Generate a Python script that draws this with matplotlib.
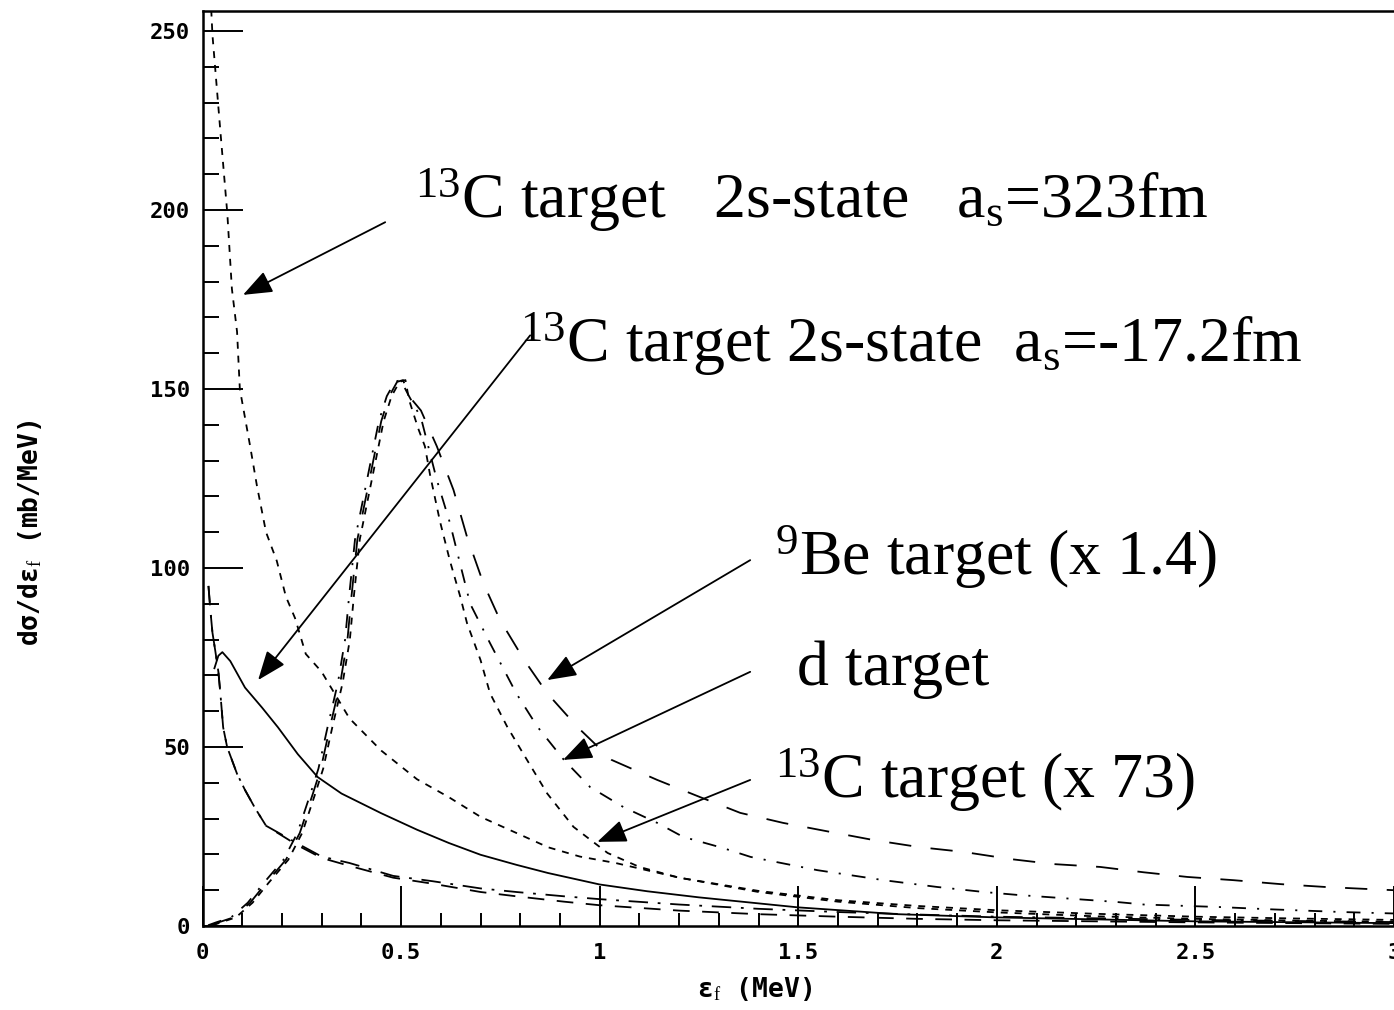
import numpy as np
import matplotlib.pyplot as plt
from matplotlib.ticker import MultipleLocator

plt.rcParams['mathtext.fontset'] = 'custom'
plt.rcParams['mathtext.rm'] = 'Liberation Serif'
plt.rcParams['mathtext.it'] = 'Liberation Serif:italic'
plt.rcParams['lines.scale_dashes'] = False

# 13C target, 2s-state, a_s = 323 fm
x_323 = [0.022, 0.025, 0.045, 0.0625, 0.074, 0.087, 0.094, 0.12, 0.137, 0.16, 0.187, 0.21,
         0.233, 0.26, 0.30, 0.37, 0.45, 0.54, 0.62, 0.70, 0.79, 0.87, 0.95, 1.04, 1.2, 1.4,
         1.6, 1.8, 2.0, 2.25, 2.5, 2.75, 3.0]
y_323 = [256, 249, 222, 199, 178, 166, 150, 134, 123, 110, 102, 92,
         86, 76, 71, 58, 49, 41, 36, 30.5, 26, 22, 19.4, 17.6, 13.5, 9.8,
         7.2, 5.6, 4.4, 3.4, 2.6, 2.1, 1.7]

# 13C target, 2s-state, a_s = -17.2 fm
x_172 = [0.03, 0.04, 0.05, 0.07, 0.107, 0.15, 0.19, 0.24, 0.29, 0.35, 0.45, 0.54, 0.62, 0.70,
         0.79, 0.87, 1.0, 1.12, 1.25, 1.5, 1.75, 2.0, 2.5, 3.0]
y_172 = [72, 75.5, 76.5, 74, 66.6, 61, 55.5, 48, 41.6, 37, 31.5, 26.9, 23.2, 19.9,
         17.1, 14.8, 11.6, 9.7, 8, 5.2, 3.3, 2.4, 1.3, 0.8]

# steep low-energy curves
x_low = [0.015, 0.02, 0.025, 0.032, 0.04, 0.045, 0.052, 0.062, 0.087, 0.107, 0.132, 0.16,
         0.24, 0.30, 0.37, 0.48, 0.58, 0.70, 0.79, 0.91, 1.0, 1.2, 1.4, 1.6, 1.8, 2.0, 2.5, 3.0]
y_low1 = [95, 88, 82, 77, 71, 65, 55.5, 50, 42.5, 38, 33, 28,
          23, 19.4, 17.6, 14, 12.5, 10.5, 9.5, 8.3, 7.5, 6.0, 4.8, 3.9, 3.2, 2.6, 1.7, 1.1]
y_low2 = [95, 88, 82, 77, 71, 65, 55.5, 50, 42.5, 38, 33, 28,
          22.5, 19, 16.8, 13.5, 11.8, 9.5, 8.3, 6.8, 5.8, 4.3, 3.3, 2.6, 2.0, 1.6, 1.0, 0.6]

# resonance peak: rising side
x_rise = [0.02, 0.04, 0.078, 0.12, 0.16, 0.21, 0.245, 0.278, 0.298, 0.321, 0.347, 0.365,
          0.375, 0.39, 0.41, 0.43, 0.45, 0.47, 0.49, 0.505]
y_rise = [0.2, 1, 2.4, 6.5, 12, 18.5, 26, 37, 44, 55.6, 68, 80,
          92, 108, 119, 130, 141, 148, 152, 152.5]

# falling sides
x_be = [0.52, 0.55, 0.59, 0.632, 0.666, 0.707, 0.749, 0.81, 0.868, 0.943, 1.03, 1.145, 1.253,
        1.354, 1.462, 1.58, 1.69, 1.807, 1.916, 2.034, 2.142, 2.26, 2.37, 2.48, 2.596, 2.714,
        2.827, 2.94, 3.0]
y_be = [148, 144, 134, 121.8, 108.7, 95.8, 85.5, 74.3, 65, 55.7, 46.4, 40.8, 36,
        31.6, 28.8, 26.3, 24, 22, 20.7, 18.7, 17.3, 16.5, 15, 13.7, 12.8, 11.7,
        10.9, 10.3, 10.0]

x_d = [0.52, 0.55, 0.59, 0.623, 0.649, 0.674, 0.724, 0.757, 0.79, 0.843, 0.91, 0.976, 1.06,
       1.145, 1.21, 1.31, 1.38, 1.548, 1.715, 1.85, 1.967, 2.05, 2.303, 2.37, 2.56, 2.68,
       2.87, 3.0]
y_d = [148, 142, 124.6, 112.6, 101, 90, 79, 72, 65, 55.7, 46.4, 38.8, 33.2,
       28.8, 24.9, 21.8, 19.3, 15.6, 12.8, 10.9, 9.5, 8.7, 6.7, 6.0, 5.3, 4.7,
       3.9, 3.5]

x_c73 = [0.52, 0.543, 0.56, 0.573, 0.598, 0.623, 0.649, 0.666, 0.70, 0.724, 0.767, 0.817,
         0.868, 0.934, 1.02, 1.1, 1.2, 1.4, 1.6, 1.8, 2.0, 2.25, 2.5, 2.75, 3.0]
y_c73 = [147, 139, 134, 126, 113, 102, 92, 84.6, 74.3, 65, 55.7, 46.4,
         37, 27.7, 20.4, 16.5, 13.5, 9.5, 6.8, 5.0, 3.8, 2.7, 2.0, 1.5, 1.2]

fig = plt.figure(figsize=(13.94, 10.10), dpi=100)
ax = fig.add_axes([202.5 / 1394, 84 / 1010, (1394 - 202.5) / 1394, 915 / 1010])

lw = 1.3
ax.plot(x_323, y_323, color='black', lw=lw, dashes=(5, 5))
ax.plot(x_172, y_172, color='black', lw=lw)
ax.plot(x_low, y_low1, color='black', lw=lw, dashes=(14, 7, 2, 7))
ax.plot(x_low, y_low2, color='black', lw=lw, dashes=(12, 9))
ax.plot(x_rise + x_be, y_rise + y_be, color='black', lw=lw, dashes=(16, 14))
ax.plot([x - 0.006 for x in x_rise] + x_d, y_rise + y_d, color='black', lw=lw,
        dashes=(10, 8, 1.5, 8))
ax.plot([x + 0.006 for x in x_rise] + x_c73, y_rise + y_c73, color='black', lw=lw,
        dashes=(5, 5))

ax.set_xlim(0, 3)
ax.set_ylim(0, 255.6)
ax.xaxis.set_major_locator(MultipleLocator(0.5))
ax.xaxis.set_minor_locator(MultipleLocator(0.1))
ax.yaxis.set_major_locator(MultipleLocator(50))
ax.yaxis.set_minor_locator(MultipleLocator(10))
ax.xaxis.set_major_formatter(lambda v, p: f'{v:g}')
ax.tick_params(which='both', direction='in', width=1.4, top=False, right=False)
ax.tick_params(axis='x', which='major', length=29, pad=12)
ax.tick_params(axis='x', which='minor', length=9.5)
ax.tick_params(axis='y', which='major', length=29, pad=9)
ax.tick_params(axis='y', which='minor', length=11.5)
for lab in ax.get_xticklabels() + ax.get_yticklabels():
    lab.set_fontfamily('DejaVu Sans Mono')
    lab.set_fontweight('bold')
    lab.set_fontsize(16)
for side in ['left', 'bottom', 'top']:
    ax.spines[side].set_linewidth(1.8)
ax.spines['right'].set_visible(False)

ax.set_xlabel(r'ε$_\mathrm{f}$ (MeV)', fontfamily='DejaVu Sans Mono', fontsize=19,
              fontweight='bold')
ax.set_ylabel(r'dσ/dε$_\mathrm{f}$ (mb/MeV)', fontfamily='DejaVu Sans Mono', fontsize=19,
              fontweight='bold')
ax.xaxis.set_label_coords(0.463, -0.054)
ax.yaxis.set_label_coords(-0.133, 0.43)

# labels and arrows
tfont = dict(fontfamily='Liberation Serif', fontsize=46, color='black')
aprops = dict(arrowstyle='-|>,head_length=0.9,head_width=0.35', mutation_scale=20,
              color='black', lw=1.3, shrinkA=0, shrinkB=0)

ax.text(0.535, 197.8, r'$^{13}$C target   2s-state   a$_\mathrm{s}$=323fm', **tfont)
ax.annotate('', xy=(0.102, 176.3), xytext=(0.46, 196.6), arrowprops=aprops)

ax.text(0.80, 157.5, r'$^{13}$C target 2s-state  a$_\mathrm{s}$=-17.2fm', **tfont)
ax.annotate('', xy=(0.14, 68.7), xytext=(0.825, 165), arrowprops=aprops)

ax.text(1.442, 98, r'$^{9}$Be target (x 1.4)', **tfont)
ax.annotate('', xy=(0.868, 68.7), xytext=(1.379, 102.2), arrowprops=aprops)

ax.text(1.497, 67.3, 'd target', **tfont)
ax.annotate('', xy=(0.908, 46.4), xytext=(1.379, 71), arrowprops=aprops)

ax.text(1.442, 35.8, r'$^{13}$C target (x 73)', **tfont)
ax.annotate('', xy=(0.994, 23.5), xytext=(1.379, 40.8), arrowprops=aprops)

fig.savefig('out.png', dpi=100)
